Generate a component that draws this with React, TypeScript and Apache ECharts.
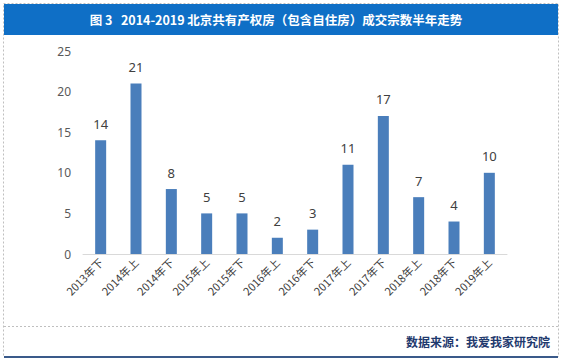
import React, { useEffect, useRef } from "react";
import * as echarts from "echarts";

const categories = ["2013年下", "2014年上", "2014年下", "2015年上", "2015年下", "2016年上", "2016年下", "2017年上", "2017年下", "2018年上", "2018年下", "2019年上"];
const values = [14, 21, 8, 5, 5, 2, 3, 11, 17, 7, 4, 10];
const yTicks = [0, 5, 10, 15, 20, 25];
const titleText = "图 3   2014-2019 北京共有产权房（包含自住房）成交宗数半年走势";
const sourceText = "数据来源：我爱我家研究院";

export default function App() {
  const ref = useRef<HTMLDivElement>(null);
  useEffect(() => {
    if (!ref.current) return;
    const chart = echarts.init(ref.current, null, { renderer: "svg" });
    chart.setOption({
      animation: false,
      backgroundColor: "#ffffff",
      grid: { left: 83, right: 55, top: 51, bottom: 106 },
      xAxis: {
        type: "category",
        data: categories,
        axisLine: { lineStyle: { color: "#d9d9d9", width: 1 } },
        axisTick: { show: false },
        axisLabel: {
          rotate: 45,
          color: "#404040",
          fontSize: 11,
          fontFamily: "Noto Sans CJK SC",
          interval: 0,
          margin: 6,
        },
      },
      yAxis: {
        type: "value",
        min: yTicks[0],
        max: yTicks[yTicks.length - 1],
        interval: 5,
        splitLine: { show: false },
        axisLine: { show: false },
        axisTick: { show: false },
        axisLabel: { color: "#595959", fontSize: 12, fontFamily: "Noto Sans", margin: 12 },
      },
      series: [
        {
          type: "bar",
          data: values,
          barWidth: 11,
          itemStyle: { color: "#4a7ebb" },
          label: {
            show: true,
            position: "top",
            distance: 10,
            color: "#404040",
            fontSize: 13,
            fontFamily: "Noto Sans",
          },
        },
      ],
      graphic: [
        {
          type: "rect",
          shape: { x: 3.5, y: 3.5, width: 555, height: 353 },
          style: { fill: "none", stroke: "#bfbfbf", lineWidth: 1, lineDash: [2, 2] },
          silent: true,
        },
        {
          type: "rect",
          shape: { x: 4, y: 4, width: 554, height: 31 },
          style: { fill: "#0f6fc6" },
          silent: true,
        },
        {
          type: "text",
          x: 276,
          y: 19.5,
          style: {
            text: titleText,
            fill: "#ffffff",
            fontSize: 12.5,
            fontWeight: "bold",
            fontFamily: "Noto Sans CJK SC",
            align: "center",
            verticalAlign: "middle",
          },
          silent: true,
        },
        {
          type: "line",
          shape: { x1: 4, y1: 326.5, x2: 558, y2: 326.5 },
          style: { stroke: "#bfbfbf", lineWidth: 1, lineDash: [2, 2] },
          silent: true,
        },
        {
          type: "line",
          shape: { x1: 4, y1: 357, x2: 558, y2: 357 },
          style: { stroke: "#3a5a8a", lineWidth: 2 },
          silent: true,
        },
        {
          type: "text",
          x: 550,
          y: 341,
          style: {
            text: sourceText,
            fill: "#1f3a6e",
            fontSize: 12,
            fontWeight: "bold",
            fontFamily: "Noto Sans CJK SC",
            align: "right",
            verticalAlign: "middle",
          },
          silent: true,
        },
      ],
    });
    return () => chart.dispose();
  }, []);
  return (
    <div
      ref={ref}
      style={{ position: "fixed", left: 0, top: 0, width: 562, height: 360 }}
    />
  );
}
